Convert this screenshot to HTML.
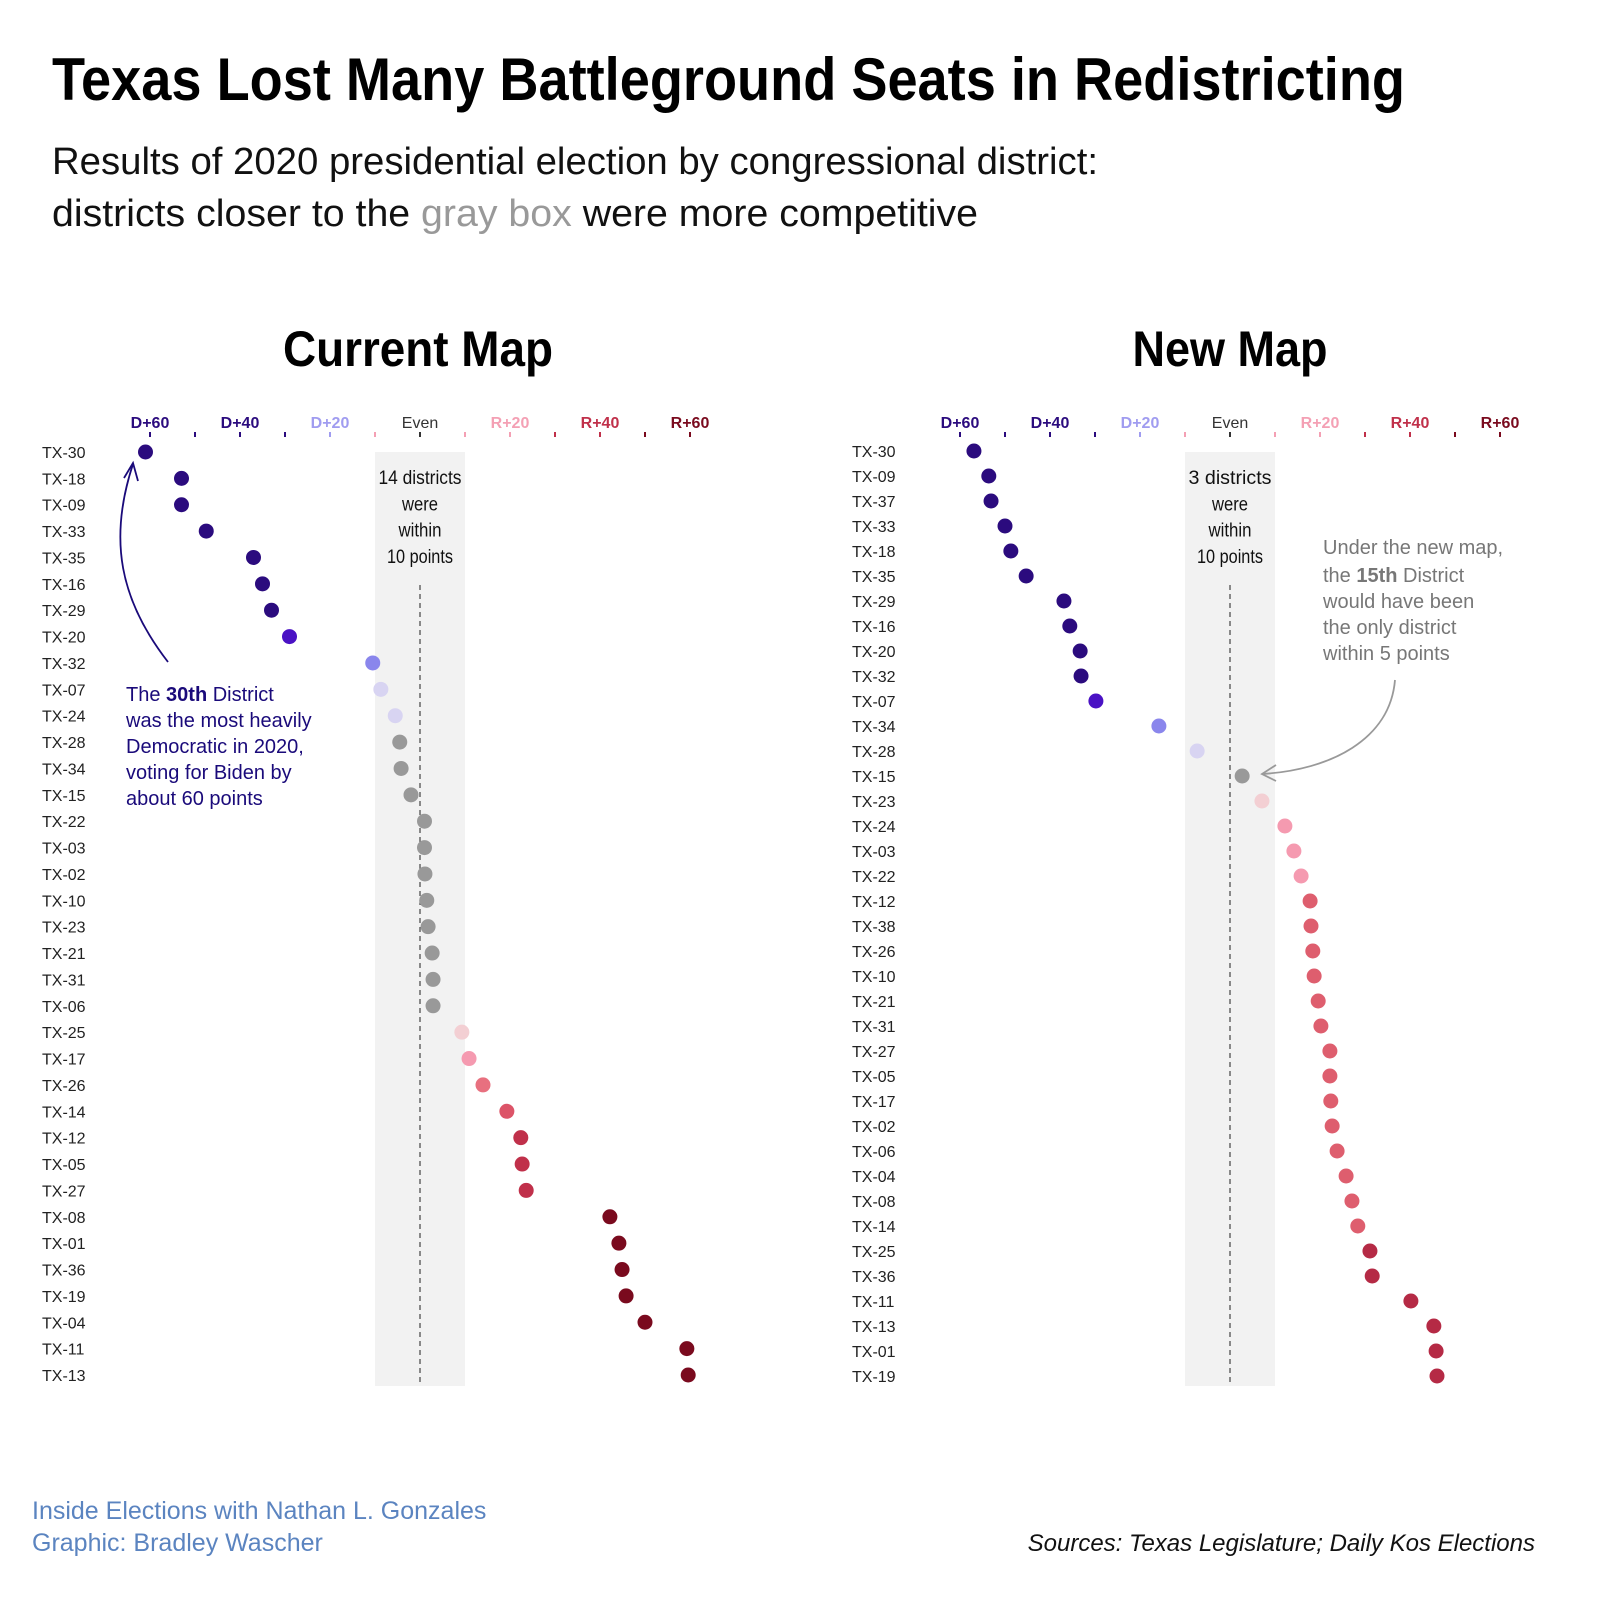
<!DOCTYPE html>
<html><head><meta charset="utf-8"><style>
html,body{margin:0;padding:0;background:#fff;}
svg{display:block;font-family:"Liberation Sans",sans-serif;}
</style></head><body>
<svg id="c" width="1600" height="1600" viewBox="0 0 1600 1600">
<text x="52" y="100" font-size="60" font-weight="bold" textLength="1353" lengthAdjust="spacingAndGlyphs" fill="#000">Texas Lost Many Battleground Seats in Redistricting</text>
<text x="52" y="174" font-size="38" textLength="1046" lengthAdjust="spacingAndGlyphs" fill="#111">Results of 2020 presidential election by congressional district:</text>
<text x="52" y="226" font-size="38" textLength="926" lengthAdjust="spacingAndGlyphs" fill="#111">districts closer to the <tspan fill="#999">gray box</tspan> were more competitive</text>
<text x="418" y="366" font-size="50" font-weight="bold" text-anchor="middle" textLength="270" lengthAdjust="spacingAndGlyphs">Current Map</text>
<text x="1230" y="366" font-size="50" font-weight="bold" text-anchor="middle" textLength="195" lengthAdjust="spacingAndGlyphs">New Map</text>
<g id="left"></g>
<g id="right"></g>
<g fill="#1a0a7a" font-size="20">
<text x="126" y="701">The <tspan font-weight="bold">30th</tspan> District</text>
<text x="126" y="727">was the most heavily</text>
<text x="126" y="753">Democratic in 2020,</text>
<text x="126" y="779">voting for Biden by</text>
<text x="126" y="805">about 60 points</text>
</g>
<path d="M168,662 C120,600 108,540 133,464" fill="none" stroke="#1a0a7a" stroke-width="1.8"/>
<path d="M124,478 L133,463 L138,481" fill="none" stroke="#1a0a7a" stroke-width="1.8"/>
<g fill="#777" font-size="20">
<text x="1323" y="554">Under the new map,</text>
<text x="1323" y="582">the <tspan font-weight="bold">15th</tspan> District</text>
<text x="1323" y="608">would have been</text>
<text x="1323" y="634">the only district</text>
<text x="1323" y="660">within 5 points</text>
</g>
<path d="M1395,680 C1390,740 1330,770 1262,774" fill="none" stroke="#999" stroke-width="1.8"/>
<path d="M1276,765 L1262,774 L1276,781" fill="none" stroke="#999" stroke-width="1.8"/>
<text x="32" y="1519" font-size="25" fill="#5b84c0">Inside Elections with Nathan L. Gonzales</text>
<text x="32" y="1551" font-size="25" fill="#5b84c0">Graphic: Bradley Wascher</text>
<text x="1535" y="1551" font-size="24" font-style="italic" text-anchor="end" fill="#111">Sources: Texas Legislature; Daily Kos Elections</text>
</svg>
<script>
const leftDistricts=["TX-30","TX-18","TX-09","TX-33","TX-35","TX-16","TX-29","TX-20","TX-32","TX-07","TX-24","TX-28","TX-34","TX-15","TX-22","TX-03","TX-02","TX-10","TX-23","TX-21","TX-31","TX-06","TX-25","TX-17","TX-26","TX-14","TX-12","TX-05","TX-27","TX-08","TX-01","TX-36","TX-19","TX-04","TX-11","TX-13"];
const leftMargins=[-61,-53,-53,-47.5,-37,-35,-33,-29,-10.5,-8.7,-5.5,-4.5,-4.2,-2,1,1,1.1,1.5,1.8,2.7,2.9,2.9,9.3,10.9,14,19.3,22.4,22.7,23.6,42.2,44.2,44.9,45.8,50,59.3,59.6];
const rightDistricts=["TX-30","TX-09","TX-37","TX-33","TX-18","TX-35","TX-29","TX-16","TX-20","TX-32","TX-07","TX-34","TX-28","TX-15","TX-23","TX-24","TX-03","TX-22","TX-12","TX-38","TX-26","TX-10","TX-21","TX-31","TX-27","TX-05","TX-17","TX-02","TX-06","TX-04","TX-08","TX-14","TX-25","TX-36","TX-11","TX-13","TX-01","TX-19"];
const rightMargins=[-56.9,-53.6,-53.1,-50,-48.7,-45.3,-36.9,-35.6,-33.3,-33.1,-29.8,-15.8,-7.3,2.7,7.1,12.2,14.2,15.8,17.8,18,18.4,18.7,19.6,20.2,22.2,22.2,22.4,22.7,23.8,25.8,27.1,28.4,31.1,31.6,40.2,45.3,45.8,46];
const tickValues=[-60,-40,-20,0,20,40,60];
const tickLabels=["D+60","D+40","D+20","Even","R+20","R+40","R+60"];
const boxText={left:["14 districts","were","within","10 points"],right:["3 districts","were","within","10 points"]};
const NS="http://www.w3.org/2000/svg";
function mk(tag,attrs,parent){const e=document.createElementNS(NS,tag);for(const k in attrs)e.setAttribute(k,attrs[k]);parent.appendChild(e);return e;}
function tickColor(v){if(v<=-30)return"#2b0b7e";if(v<-10)return"#a09cf0";if(v<10&&v>-10)return"#333";if(v<30)return"#f4a0b4";if(v<50)return"#c0304a";return"#7a0a1e";}
function dotColor(v,dark){
  if(v<=-30)return"#2b0b7e";if(v<-20)return"#4a12c4";if(v<-10)return"#8a86ec";if(v<-5)return"#d8d4f2";if(v<5)return"#999";if(v<10)return"#f3cfd3";
  if(dark){if(v<13)return"#f59ab0";if(v<17)return"#e8707f";if(v<21)return"#dc5468";if(v<40)return"#c0304a";return"#7a0a1e";}
  if(v<17)return"#f59ab0";if(v<30)return"#de5e6e";return"#b52a45";}
function panel(g,names,vals,x0,top,bottom,labelX,texts,dark){
  const xs=v=>x0+v*4.5;
  const step=(bottom-top)/(names.length-1);
  const ys=i=>top+i*step;
  const box=mk("rect",{x:xs(-10),y:452,width:xs(10)-xs(-10),height:1386-452,fill:"#f2f2f2"},g);
  
  
  texts.forEach((t,i)=>{const e=mk("text",{x:xs(0),y:484+i*26.3,"font-size":19,"text-anchor":"middle",fill:"#111",textLength:t.length>7?(t.length>10?83:66):(t.length>5?43:36),lengthAdjust:"spacingAndGlyphs"},g);e.textContent=t;
    
    });
  const dl=mk("line",{x1:xs(0),x2:xs(0),y1:585,y2:1386,stroke:"#444","stroke-width":1.2,"stroke-dasharray":"5,4"},g);
  
  
  for(let v=-60;v<=60;v+=10){const tk=mk("line",{x1:xs(v),x2:xs(v),y1:432,y2:437,stroke:tickColor(v),"stroke-width":2},g);
    
    }
  tickValues.forEach((v,i)=>{const e=mk("text",{x:xs(v),y:428,"font-size":16,"font-weight":v===0?"normal":"bold","text-anchor":"middle",fill:tickColor(v)},g);e.textContent=tickLabels[i];
    
    });
  names.forEach((n,i)=>{
    const t=mk("text",{x:labelX,y:ys(i)+6,"font-size":16,fill:"#222"},g);t.textContent=n;
    
    
    const c=mk("circle",{cx:xs(vals[i]),cy:ys(i),r:7.5,fill:dotColor(vals[i],dark)},g);
    
    
  });
}
panel(document.getElementById("left"),leftDistricts,leftMargins,420,452,1375,42,boxText.left,true);
panel(document.getElementById("right"),rightDistricts,rightMargins,1230,451,1376,852,boxText.right,false);
</script>
</body></html>
